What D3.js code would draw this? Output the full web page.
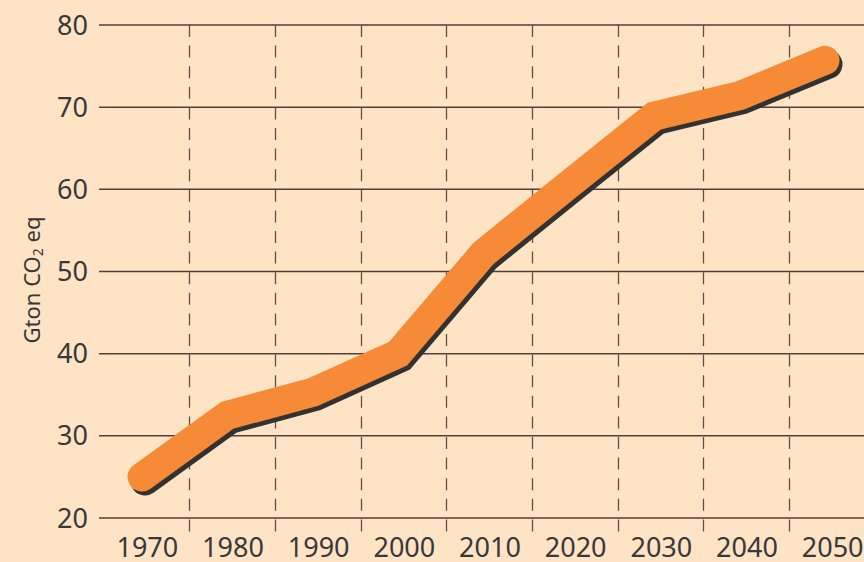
<!DOCTYPE html>
<html>
<head>
<meta charset="utf-8">
<script src="https://cdn.jsdelivr.net/npm/d3@7"></script>
<style>
  html, body { margin: 0; padding: 0; background: #fee4c5; }
  svg { display: block; }
  text { font-family: "Noto Sans", "Open Sans", sans-serif; fill: #383838; }
</style>
</head>
<body>
<script>
// chart data
var years = [1970, 1980, 1990, 2000, 2010, 2020, 2030, 2040, 2050];
var emissions = [25.0, 32.5, 35.3, 40.0, 52.2, 60.6, 68.9, 71.4, 75.7];
var yTicks = [20, 30, 40, 50, 60, 70, 80];

var width = 864, height = 562;

var svg = d3.select("body")
  .append("svg")
  .attr("width", width)
  .attr("height", height);

svg.append("rect")
  .attr("width", width)
  .attr("height", height)
  .attr("fill", "#fee4c5");

// scales
var yScale = d3.scaleLinear()
  .domain([20, 80])
  .range([518, 25]);

// bands hold the year labels, boundaries carry the dashed lines
var xBand = d3.scaleBand()
  .domain(years)
  .range([103.5, 874.5]);

// the line's points sit a bit left of the band centres
var xLine = d3.scalePoint()
  .domain(years)
  .range([142, 825]);

// horizontal grid
svg.selectAll(".hgrid")
  .data(yTicks)
  .enter()
  .append("line")
  .attr("class", "hgrid")
  .attr("x1", 99)
  .attr("x2", width)
  .attr("y1", function(d){ return yScale(d); })
  .attr("y2", function(d){ return yScale(d); })
  .attr("stroke", "#4e4036")
  .attr("stroke-width", 1.5);

// dashed separators between the decades
svg.selectAll(".vgrid")
  .data(years.slice(1))
  .enter()
  .append("line")
  .attr("class", "vgrid")
  .attr("x1", function(d){ return Math.round(xBand(d)) + 0.5; })
  .attr("x2", function(d){ return Math.round(xBand(d)) + 0.5; })
  .attr("y1", 25)
  .attr("y2", 533)
  .attr("stroke", "#5a5048")
  .attr("stroke-width", 1.3)
  .attr("stroke-dasharray", "12,8.6");

// y tick labels
svg.selectAll(".ylab")
  .data(yTicks)
  .enter()
  .append("text")
  .attr("class", "ylab")
  .attr("x", 88)
  .attr("y", function(d){ return yScale(d) + 9.5; })
  .attr("text-anchor", "end")
  .attr("font-size", 27)
  .text(function(d){ return d; });

// x labels
svg.selectAll(".xlab")
  .data(years)
  .enter()
  .append("text")
  .attr("class", "xlab")
  .attr("x", function(d){ return xBand(d) + xBand.bandwidth() / 2 + 1; })
  .attr("y", 557)
  .attr("text-anchor", "middle")
  .attr("font-size", 27)
  .text(function(d){ return d; });

// axis title
var title = svg.append("text")
  .attr("transform", "translate(40,280) rotate(-90)")
  .attr("text-anchor", "middle")
  .attr("font-size", 22);
title.append("tspan").text("Gton CO");
title.append("tspan").attr("font-size", 14).attr("dy", 3).text("2");
title.append("tspan").attr("dy", -3).text(" eq");

var pts = years.map(function(y, i){ return [y, emissions[i]]; });

var line = d3.line()
  .x(function(d){ return xLine(d[0]); })
  .y(function(d){ return yScale(d[1]); });

// dark shadow under the thick line
svg.append("path")
  .datum(pts)
  .attr("d", line)
  .attr("transform", "translate(3,4)")
  .attr("fill", "none")
  .attr("stroke", "#333231")
  .attr("stroke-width", 29)
  .attr("stroke-linecap", "round")
  .attr("stroke-linejoin", "miter");

svg.append("path")
  .datum(pts)
  .attr("d", line)
  .attr("fill", "none")
  .attr("stroke", "#f68a37")
  .attr("stroke-width", 29)
  .attr("stroke-linecap", "round")
  .attr("stroke-linejoin", "miter");
</script>
</body>
</html>
